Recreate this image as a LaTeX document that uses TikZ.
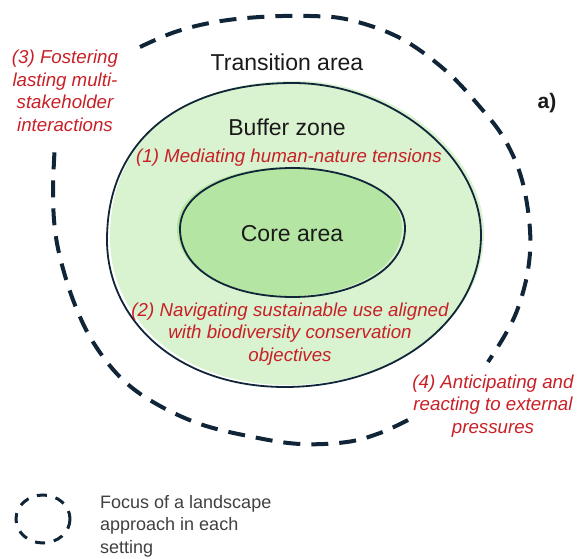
\documentclass[tikz,border=0pt]{standalone}
\usepackage{fontspec}
\setmainfont{Liberation Sans}
\definecolor{lineblue}{RGB}{16,38,56}
\definecolor{bufgreen}{RGB}{217,242,208}
\definecolor{coregreen}{RGB}{180,229,162}
\definecolor{txtred}{RGB}{200,32,38}
\definecolor{txtblack}{RGB}{26,26,26}
\definecolor{legendgray}{RGB}{64,64,64}
\begin{document}
\begin{tikzpicture}[x=1pt,y=-1pt,
  zonelabel/.style={text=txtblack, font=\fontsize{23}{27}\selectfont, inner sep=0pt},
  redlabel/.style={text=txtred, font=\fontsize{18.7}{22.5}\selectfont\itshape, align=center, inner sep=0pt},
  focusline/.style={draw=lineblue, line width=4pt, dash pattern=on 17pt off 11pt},
  zoneline/.style={draw=lineblue, line width=1.8pt},
  legendline/.style={draw=lineblue, line width=3pt, dash pattern=on 10pt off 9pt},
]
\useasboundingbox (0,0) rectangle (582,559);

\def\bufferpath{(107,240) .. controls (107,140) and (180,83) .. (293,83)
  .. controls (390,83) and (481,155) .. (481,235)
  .. controls (481,320) and (395,387) .. (285,387)
  .. controls (175,387) and (107,318) .. (107,240) -- cycle}
\def\corepath{(180,229) .. controls (180,190) and (235,168) .. (293,168)
  .. controls (345,168) and (405,190) .. (405,228)
  .. controls (405,272) and (350,297) .. (293,297)
  .. controls (228,297) and (180,270) .. (180,229) -- cycle}

% buffer zone (fill slightly offset for the hand-drawn look)
\fill[bufgreen, xshift=3pt, yshift=2pt] \bufferpath;
\draw[zoneline] \bufferpath;

% core area
\fill[coregreen, xshift=-3pt, yshift=1pt] \corepath;
\draw[zoneline] \corepath;

% outer dashed focus line (two open parts)
\draw[focusline] plot[smooth, tension=0.6] coordinates {
  (140,47) (175,32) (215,22) (260,17) (310,16) (350,20) (400,38) (445,70)
  (480,107) (505,140) (522,180) (530,230) (528,270) (518,308) (505,335) (488,362)};
\draw[focusline] plot[smooth, tension=0.6] coordinates {
  (408,420) (380,433) (347,442) (300,444) (253,437) (200,424) (153,402) (120,377)
  (93,342) (75,305) (62,265) (55,230) (53,190) (55,143)};

% labels
\node[zonelabel] (transition) at (287,62) {Transition area};
\node[zonelabel] (buffer) at (287,127) {Buffer zone};
\node[zonelabel] (core) at (292,234) {Core area};
\node[text=txtblack, font=\fontsize{21}{25}\selectfont\bfseries, inner sep=0pt] (panel) at (547,103) {a)};

\node[redlabel] (t1) at (289,158) {(1) Mediating human-nature tensions};
\node[redlabel] (t2) at (290,334) {(2) Navigating sustainable use aligned\\with biodiversity conservation\\objectives};
\node[redlabel] (t3) at (65,91) {(3) Fostering\\lasting multi-\\stakeholder\\interactions};
\node[redlabel] (t4) at (493,406) {(4) Anticipating and\\reacting to external\\pressures};

% legend
\draw[legendline] (43,519) ellipse [x radius=27, y radius=24];
\node[text=legendgray, font=\fontsize{18}{22.5}\selectfont, align=left, anchor=west, inner sep=0pt]
  (legend) at (100,526) {Focus of a landscape\\approach in each\\setting};
\end{tikzpicture}
\end{document}
